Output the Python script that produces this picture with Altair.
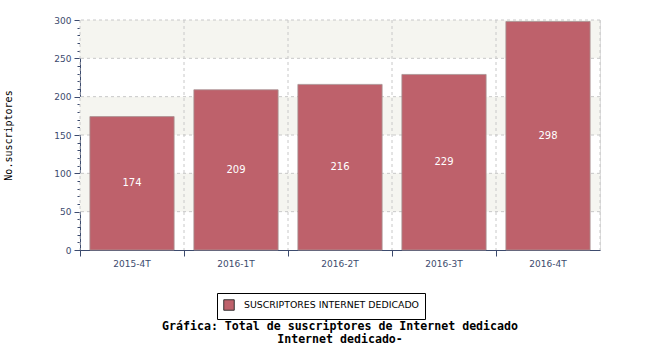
import altair as alt
import pandas as pd

periods = ["2015-4T", "2016-1T", "2016-2T", "2016-3T", "2016-4T"]
subs = [174, 209, 216, 229, 298]
series_name = "SUSCRIPTORES INTERNET DEDICADO"
band_lo = [50, 150, 250]
band_hi = [100, 200, 300]
grid_y = [50, 100, 150, 200, 250, 300]
minor_ticks = list(range(0, 301, 10))

BAR = "#be616b"
AXIS = "#3c4b6e"
GRID = "#c8c8c8"
SHADE = "#f5f5f0"

df = pd.DataFrame({"periodo": periods, "suscriptores": subs, "serie": [series_name] * len(periods)})
df["mid"] = df["suscriptores"] / 2
bands = pd.DataFrame({"lo": band_lo, "hi": band_hi})
hgrid = pd.DataFrame({"v": grid_y})
vgrid = pd.DataFrame({"periodo": periods})
edge = pd.DataFrame({"periodo": [periods[-1]]})

x_scale = alt.Scale(domain=periods, paddingInner=0, paddingOuter=0)
y_scale = alt.Scale(domain=[0, 300], nice=False)

x_axis = alt.Axis(
    bandPosition=0, labelAngle=0, labelFont="DejaVu Sans", labelFontSize=9,
    labelColor=AXIS, domainColor=AXIS, tickColor=AXIS, tickSize=6, labelPadding=3,
    grid=False, domainWidth=1, title=None,
)
y_axis = alt.Axis(
    values=minor_ticks,
    labelExpr="datum.value % 50 === 0 ? datum.label : ''",
    tickSize={"condition": {"test": "datum.value % 50 === 0", "value": 6}, "value": 3},
    labelFont="DejaVu Sans", labelFontSize=9, labelColor=AXIS, labelPadding=3,
    domainColor=AXIS, tickColor=AXIS, grid=False,
    title="No.suscriptores",
    titleFont="DejaVu Sans Mono", titleFontSize=10, titleFontWeight="normal",
    titleColor="#000000", titlePadding=40,
)

def X(field, **kw):
    return alt.X(field, type="nominal", scale=x_scale, axis=x_axis, title=None, **kw)

def Y(field):
    return alt.Y(field, type="quantitative", scale=y_scale, axis=y_axis, title="No.suscriptores")

shade = alt.Chart(bands).mark_rect(color=SHADE).encode(y=Y("lo"), y2="hi:Q")

hlines = alt.Chart(hgrid).mark_rule(color=GRID, strokeDash=[3, 3], strokeWidth=1).encode(y=Y("v"))

vlines = alt.Chart(vgrid).mark_rule(color=GRID, strokeDash=[3, 3], strokeWidth=1).encode(
    x=X("periodo", bandPosition=0)
)
vedge = alt.Chart(edge).mark_rule(color=GRID, strokeDash=[3, 3], strokeWidth=1).encode(
    x=X("periodo", bandPosition=1)
)

bars = alt.Chart(df).mark_bar(
    width=alt.RelativeBandSize(0.81), stroke="#a89494", strokeWidth=1, strokeOpacity=0.8
).encode(
    x=X("periodo"),
    y=Y("suscriptores"),
    color=alt.Color(
        "serie:N", scale=alt.Scale(domain=[series_name], range=[BAR]),
        legend=alt.Legend(
            title=None, orient="none", legendX=137, legendY=273, direction="horizontal",
            fillColor="#ffffff", strokeColor="#000000", padding=6, labelLimit=400,
            symbolType="square", symbolSize=110, symbolStrokeColor="#333333", symbolStrokeWidth=1,
            labelFont="DejaVu Sans", labelFontSize=9.4, labelColor="#000000", labelOffset=9,
        ),
    ),
)

labels = alt.Chart(df).mark_text(color="white", font="DejaVu Sans", fontSize=10).encode(
    x=X("periodo"),
    y=Y("mid"),
    text="suscriptores:Q",
)

chart = alt.layer(shade, hlines, vlines, vedge, bars, labels).properties(
    width=520, height=230,
    padding={"left": 80, "top": 20, "right": 50, "bottom": 100},
    autosize=alt.AutoSizeParams(type="none"),
    title=alt.TitleParams(
        text=["Gráfica: Total de suscriptores de Internet dedicado", "Internet dedicado-"],
        orient="bottom", anchor="middle", font="DejaVu Sans Mono", fontSize=11.6,
        fontWeight="bold", color="#000000", offset=1, lineHeight=13,
    ),
).configure_view(stroke=None).configure(background="white")

chart.save("out.html", embed_options={"renderer": "svg", "actions": False})
